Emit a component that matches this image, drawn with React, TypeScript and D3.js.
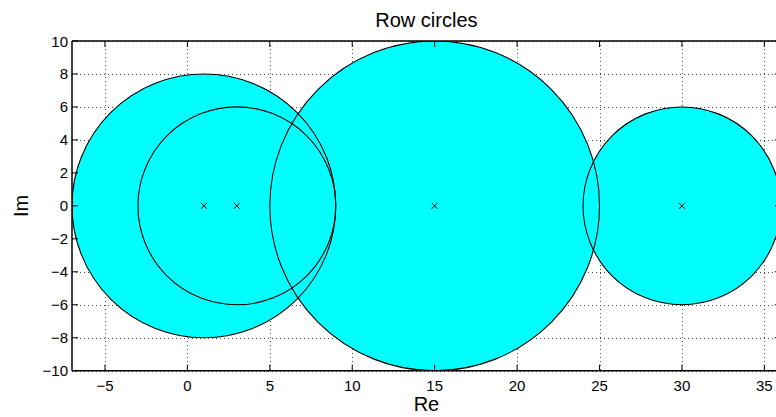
import React from "react";
import * as d3 from "d3";

const centers = [1, 3, 15, 30];
const radii = [8, 6, 10, 6];
const xTicks = [-5, 0, 5, 10, 15, 20, 25, 30, 35];
const yTicks = [-10, -8, -6, -4, -2, 0, 2, 4, 6, 8, 10];
const xDomain = [-7, 36];
const yDomain = [-10, 10];
const title = "Row circles";
const xLabel = "Re";
const yLabel = "Im";

const W = 776;
const H = 417;
const left = 72;
const top = 41;
const bottom = 370.7;
const unit = (bottom - top) / 20;
const right = left + (xDomain[1] - xDomain[0]) * unit;

export default function App() {
  const x = d3.scaleLinear().domain(xDomain).range([left, right]);
  const y = d3.scaleLinear().domain(yDomain).range([bottom, top]);
  const font = "'Liberation Sans', Arial, Helvetica, sans-serif";
  const circ = (c: number, r: number) => {
    const path = d3.path();
    path.arc(x(c), y(0), x(c + r) - x(c), 0, Math.PI * 2);
    return path.toString();
  };
  const tl = 6;
  return (
    <svg width={W} height={H} style={{ position: "absolute", left: 0, top: 0, background: "#fff" }}>
      <defs>
        <clipPath id="plot">
          <rect x={left} y={top} width={right - left} height={bottom - top} />
        </clipPath>
      </defs>
      <rect x={0} y={0} width={W} height={H} fill="#fff" />
      {/* grid */}
      <g stroke="#444" strokeWidth={1} strokeDasharray="1 3">
        {xTicks.map((t) => (
          <line key={"gx" + t} x1={Math.round(x(t)) + 0.5} x2={Math.round(x(t)) + 0.5} y1={top} y2={bottom} />
        ))}
        {yTicks.map((t) => (
          <line key={"gy" + t} x1={left} x2={right} y1={Math.round(y(t)) + 0.5} y2={Math.round(y(t)) + 0.5} />
        ))}
      </g>
      <g clipPath="url(#plot)">
        {centers.map((c, i) => (
          <path key={"f" + i} d={circ(c, radii[i])} fill="#00ffff" stroke="none" />
        ))}
        {centers.map((c, i) => (
          <path key={"o" + i} d={circ(c, radii[i])} fill="none" stroke="#000" strokeWidth={1.1} />
        ))}
        {centers.map((c, i) => {
          const cx = x(c);
          const cy = y(0);
          const s = 3;
          return (
            <g key={"m" + i} stroke="#000" strokeWidth={1}>
              <line x1={cx - s} y1={cy - s} x2={cx + s} y2={cy + s} />
              <line x1={cx - s} y1={cy + s} x2={cx + s} y2={cy - s} />
            </g>
          );
        })}
      </g>
      {/* axes box */}
      <g stroke="#000" strokeWidth={1.5} fill="none">
        <line x1={left} x2={right} y1={top} y2={top} />
        <line x1={left} x2={right} y1={bottom} y2={bottom} />
        <line x1={left} x2={left} y1={top} y2={bottom} />
        <line x1={right} x2={right} y1={top} y2={bottom} />
      </g>
      <g stroke="#000" strokeWidth={1}>
        {xTicks.map((t) => (
          <g key={"tx" + t}>
            <line x1={x(t)} x2={x(t)} y1={bottom} y2={bottom - tl} />
            <line x1={x(t)} x2={x(t)} y1={top} y2={top + tl} />
          </g>
        ))}
        {yTicks.map((t) => (
          <g key={"ty" + t}>
            <line x1={left} x2={left + tl} y1={y(t)} y2={y(t)} />
            <line x1={right} x2={right - tl} y1={y(t)} y2={y(t)} />
          </g>
        ))}
      </g>
      <g fontFamily={font} fontSize={15} fill="#000">
        {xTicks.map((t) => (
          <text key={"lx" + t} x={x(t)} y={bottom + 20} textAnchor="middle">
            {t < 0 ? "\u2212" + Math.abs(t) : t}
          </text>
        ))}
        {yTicks.map((t) => (
          <text key={"ly" + t} x={left - 4} y={y(t) + 5.5} textAnchor="end">
            {t < 0 ? "\u2212" + Math.abs(t) : t}
          </text>
        ))}
      </g>
      <text x={(left + right) / 2} y={27} textAnchor="middle" fontFamily={font} fontSize={20}>
        {title}
      </text>
      <text x={(left + right) / 2} y={411} textAnchor="middle" fontFamily={font} fontSize={20}>
        {xLabel}
      </text>
      <text
        transform={`translate(28, ${(top + bottom) / 2}) rotate(-90)`}
        textAnchor="middle"
        fontFamily={font}
        fontSize={20}
      >
        {yLabel}
      </text>
    </svg>
  );
}
